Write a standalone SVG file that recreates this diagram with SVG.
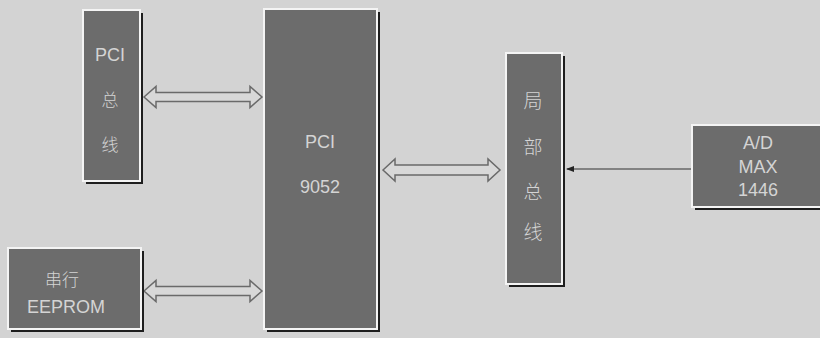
<svg xmlns="http://www.w3.org/2000/svg" width="820" height="338" viewBox="0 0 820 338">
<defs>
<style>
.bg{fill:#d3d3d3}
.shadow{fill:#1e1e1e}
.box{fill:#6c6c6c;stroke:#f4f4f4;stroke-width:2}
.t{font-family:"Liberation Sans","Noto Sans CJK SC",sans-serif;font-size:18px;fill:#d4d4d4;text-anchor:middle}
.c{font-family:"Noto Sans CJK SC",sans-serif;font-weight:300;fill:#d4d4d4;text-anchor:middle}
.dbl{fill:#d8d8d8;stroke:#6a6a6a;stroke-width:1.5;stroke-linejoin:miter}
.ln{stroke:#333;stroke-width:1.2;fill:none}
</style>
<marker id="ah" markerWidth="8" markerHeight="6" refX="7" refY="3" orient="auto" markerUnits="userSpaceOnUse">
<path d="M0,0 L8,3 L0,6 Z" fill="#222"/>
</marker>
</defs>
<rect class="bg" x="0" y="0" width="820" height="338"/>

<g id="connectors">
<path class="dbl" d="M144,97 L156,86.5 L156,92.5 L250,92.5 L250,86.5 L262,97 L250,107.5 L250,101.5 L156,101.5 L156,107.5 Z"/>
<path class="dbl" d="M144,291 L156,280.5 L156,286.5 L250,286.5 L250,280.5 L262,291 L250,301.5 L250,295.5 L156,295.5 L156,301.5 Z"/>
<path class="dbl" d="M383,170 L395,159 L395,165 L488,165 L488,159 L500,170 L488,181 L488,175 L395,175 L395,181 Z"/>
<line class="ln" x1="691" y1="169" x2="567" y2="169" marker-end="url(#ah)"/>
</g>

<g id="pci-bus">
<rect class="shadow" x="86" y="13" width="57" height="171"/>
<rect class="box" x="83" y="10" width="57" height="171"/>
<text class="t" x="110" y="61">PCI</text>
<text class="c" x="110" y="106" font-size="17">总</text>
<text class="c" x="110" y="151" font-size="17">线</text>
</g>

<g id="pci9052">
<rect class="shadow" x="267" y="12" width="113" height="320"/>
<rect class="box" x="264" y="9" width="113" height="320"/>
<text class="t" x="320" y="148">PCI</text>
<text class="t" x="320" y="193">9052</text>
</g>

<g id="eeprom">
<rect class="shadow" x="11" y="251" width="133" height="81"/>
<rect class="box" x="8" y="248" width="133" height="81"/>
<text class="c" x="62" y="286" font-size="17">串行</text>
<text class="t" x="66" y="313">EEPROM</text>
</g>

<g id="local-bus">
<rect class="shadow" x="509" y="56" width="56" height="231"/>
<rect class="box" x="506" y="53" width="56" height="231"/>
<text class="c" x="533" y="108" font-size="19">局</text>
<text class="c" x="533" y="154" font-size="19">部</text>
<text class="c" x="533" y="199" font-size="19">总</text>
<text class="c" x="533" y="239" font-size="19">线</text>
</g>

<g id="adc">
<rect class="shadow" x="695" y="128" width="140" height="82"/>
<rect class="box" x="692" y="125" width="140" height="82"/>
<text class="t" x="758" y="149">A/D</text>
<text class="t" x="758" y="173">MAX</text>
<text class="t" x="758" y="196">1446</text>
</g>
</svg>
